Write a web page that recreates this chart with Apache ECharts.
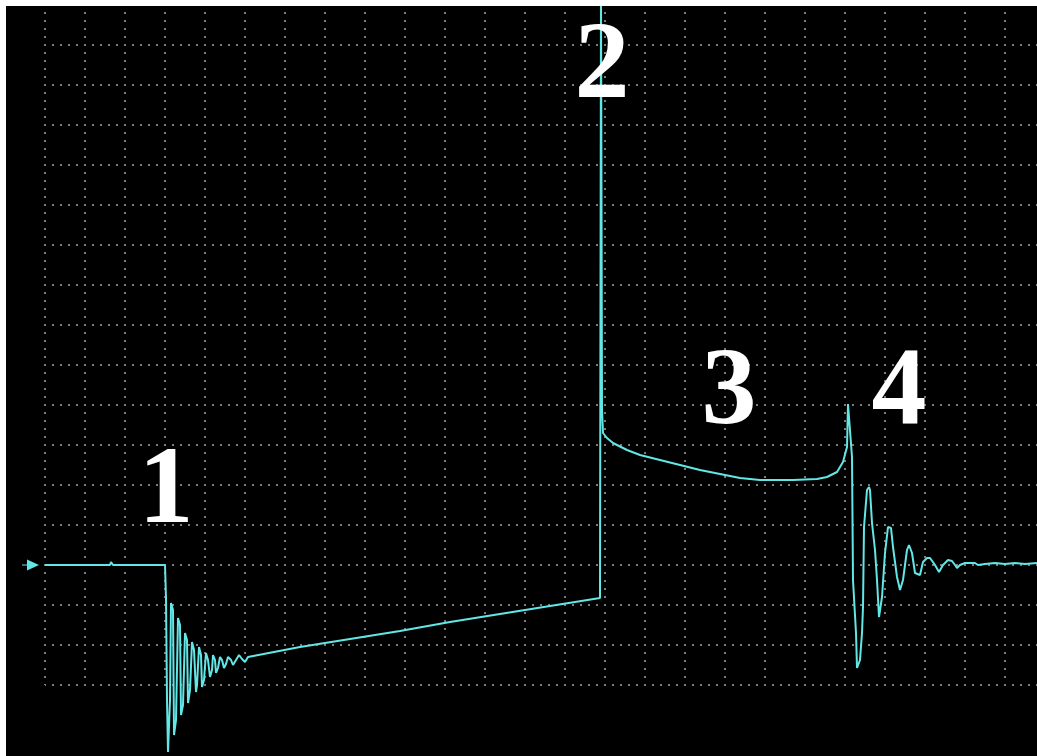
<!DOCTYPE html>
<html>
<head>
<meta charset="utf-8">
<script src="https://cdn.jsdelivr.net/npm/echarts@6/dist/echarts.min.js"></script>
<style>
html,body{margin:0;padding:0;background:#000;}
#chart{width:1037px;height:756px;}
</style>
</head>
<body>
<div id="chart"></div>
<script>
// Oscilloscope trace (x: time units, 40 per division; y: 40 per division)
var xTicks = { min: 0, max: 1000, interval: 40 };
var yTicks = { min: 0, max: 680, interval: 40 };
var groundLevel = 120;

var preTrigger = [[0,120],[65,120],[66,123],[68,120],[120,120]];
var ringing1 = [[121,87],[122,-15],[123,-67],[125,-15],[126,82],[128,75],[129,-50],[131,-35],[133,67],[135,60],
  [136,-30],[138,-20],[140,52],[142,45],[143,-18],[145,-5],[147,43],[149,35],[151,-7],[152,0],[154,38],[156,30],
  [157,-2],[159,5],[161,32],[163,25],[165,8],[167,15],[168,30],[170,25],[171,12],[173,17],[175,28],[177,25],
  [179,17],[181,21],[183,28],[186,25],[188,20],[191,25],[194,30],[197,26],[200,23],[203,28]];
var ramp = [[205,29],[255,38],[305,46],[355,54],[405,63],[455,71],[505,79],[555,87]];
var spike2 = [[556,87],[556,690],[557,690],[557,275],[558,252]];
var curve3 = [[562,247],[568,242],[582,235],[595,230],[615,225],[635,220],[655,215],[675,211],[695,207],[715,205],
  [748,205],[772,206],[782,208],[792,213],[798,223],[802,238],[803,281],[805,281],[807,228]];
var ringing4 = [[808,105],[811,52],[812,17],[814,15],[815,25],[817,52],[818,78],[819,158],[822,195],[824,198],
  [825,195],[827,162],[830,135],[832,105],[834,68],[835,70],[837,88],[840,132],[843,158],[846,157],[848,138],
  [852,108],[855,95],[858,105],[862,135],[864,140],[867,132],[870,112],[875,110],[878,123],[882,127],[885,127],
  [890,120],[894,113],[898,120],[903,125],[907,124],[910,120],[912,117],[915,120],[920,122],[930,122],[933,120],
  [940,121],[950,122],[960,121],[970,122],[980,121],[992,122]];

var labels = ['1','2','3','4'];

var trace = [].concat(preTrigger, ringing1, ramp, spike2, curve3, ringing4);

var cyan = '#62e6e6';
var dotLine = { color: '#7c7c7c', width: 2, type: [2, 6], dashOffset: 1 };
var labelFont = 'bold 110px "Liberation Serif", "Times New Roman", serif';

var chart = echarts.init(document.getElementById('chart'), null, { renderer: 'canvas' });
chart.setOption({
  backgroundColor: '#000',
  animation: false,
  grid: { left: 45, top: 5, width: 1000, height: 680, outerBoundsMode: 'none', containLabel: false },
  xAxis: {
    type: 'value', min: xTicks.min, max: xTicks.max, interval: xTicks.interval,
    axisLine: { show: false }, axisTick: { show: false }, axisLabel: { show: false },
    splitLine: { show: true, lineStyle: dotLine }
  },
  yAxis: {
    type: 'value', min: yTicks.min, max: yTicks.max, interval: yTicks.interval,
    axisLine: { show: false }, axisTick: { show: false }, axisLabel: { show: false },
    splitLine: { show: true, lineStyle: dotLine }
  },
  series: [{
    type: 'line',
    data: trace,
    showSymbol: false,
    symbol: 'none',
    clip: false,
    lineStyle: { color: cyan, width: 2, join: 'bevel' },
    markPoint: {
      symbol: 'path://M0,5 L5,5 L5,0 L17,5.5 L5,11 L5,6 L0,6 Z',
      symbolSize: [17, 11],
      symbolOffset: [-14.5, 0],
      itemStyle: { color: cyan },
      label: { show: false },
      data: [{ coord: [0, groundLevel] }]
    }
  }],
  graphic: [
    { type: 'rect', z: 100, shape: { x: 0, y: 0, width: 1037, height: 6 }, style: { fill: '#fff' } },
    { type: 'rect', z: 100, shape: { x: 0, y: 0, width: 6, height: 756 }, style: { fill: '#fff' } },
    { type: 'text', z: 100, x: 166, y: 493.5, style: { text: labels[0], fill: '#fff', font: labelFont, textAlign: 'center', textVerticalAlign: 'middle' } },
    { type: 'text', z: 100, x: 602, y: 68.5, style: { text: labels[1], fill: '#fff', font: labelFont, textAlign: 'center', textVerticalAlign: 'middle' } },
    { type: 'text', z: 100, x: 729, y: 394.5, style: { text: labels[2], fill: '#fff', font: labelFont, textAlign: 'center', textVerticalAlign: 'middle' } },
    { type: 'text', z: 100, x: 899, y: 394.5, style: { text: labels[3], fill: '#fff', font: labelFont, textAlign: 'center', textVerticalAlign: 'middle' } }
  ]
});
</script>
</body>
</html>
